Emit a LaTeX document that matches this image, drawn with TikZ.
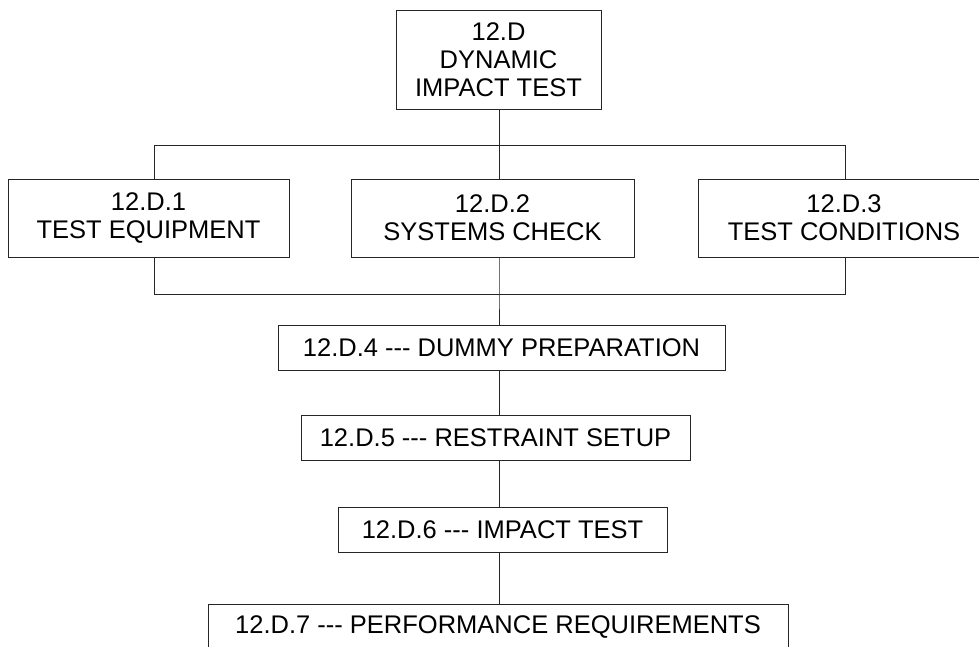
\documentclass[tikz,border=0pt]{standalone}
\usepackage{fontspec}
\setmainfont{Liberation Sans}
\newcommand{\tdash}{-{}-{}-}
\begin{document}
\begin{tikzpicture}[x=1pt,y=-1pt,
  box/.style={draw=black!85, line width=0.8pt, inner sep=0pt, align=center,
    font=\fontsize{25.5}{28}\selectfont},
  conn/.style={draw=black!85, line width=0.8pt}]
\useasboundingbox (0,0) rectangle (979,647);
\clip (0,0) rectangle (979,647);
% nodes
\node[box, minimum width=205, minimum height=99] (top) at (498.5,59.5) {12.D\\DYNAMIC\\IMPACT TEST};
\node[box, minimum width=281, minimum height=78] (b1) at (148.5,218) {12.D.1\\TEST EQUIPMENT};
\node[box, minimum width=283, minimum height=78] (b2) at (492.5,218) {12.D.2\\SYSTEMS CHECK};
\node[box, minimum width=292, minimum height=78] (b3) at (844,218) {12.D.3\\TEST CONDITIONS};
\node[box, minimum width=447, minimum height=45] (b4) at (501.5,347.5) {12.D.4 \tdash{} DUMMY PREPARATION};
\node[box, minimum width=389, minimum height=45] (b5) at (495.5,437.5) {12.D.5 \tdash{} RESTRAINT SETUP};
\node[box, minimum width=329, minimum height=45] (b6) at (502.5,529.5) {12.D.6 \tdash{} IMPACT TEST};
\node[box, minimum width=580, minimum height=45] (b7) at (498,626.5) {12.D.7 \tdash{} PERFORMANCE REQUIREMENTS};
% junctions
\coordinate (jt) at (499,145);
\coordinate (jb) at (499,294);
\coordinate (lt) at (154,145);
\coordinate (rt) at (845,145);
\coordinate (lb) at (154,294);
\coordinate (rb) at (845,294);
% connectors
\draw[conn] (jt |- top.south) -- (jt);
\draw[conn] (lt |- b1.north) -- (lt) -- (rt) -- (rt |- b3.north);
\draw[conn] (jt) -- (jt |- b2.north);
\draw[conn] (lb |- b1.south) -- (lb) -- (rb) -- (rb |- b3.south);
\draw[conn] (jb |- b2.south) -- (jb) -- (jb |- b4.north);
\draw[conn] (jb |- b4.south) -- (jb |- b5.north);
\draw[conn] (jb |- b5.south) -- (jb |- b6.north);
\draw[conn] (jb |- b6.south) -- (jb |- b7.north);
\end{tikzpicture}
\end{document}
